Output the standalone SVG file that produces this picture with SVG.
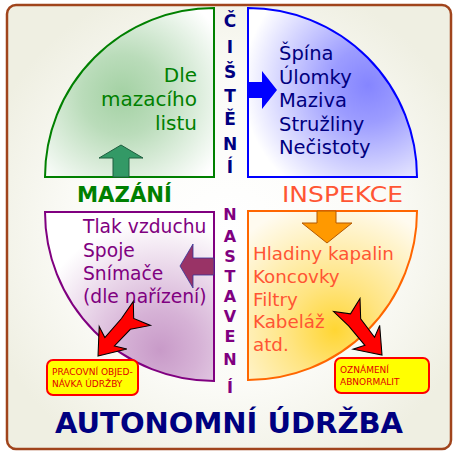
<svg xmlns="http://www.w3.org/2000/svg" width="460" height="455" viewBox="0 0 460 455">
<defs>
<radialGradient id="bg" cx="230" cy="230" r="260" gradientUnits="userSpaceOnUse"><stop offset="0" stop-color="#ffffff"/><stop offset="0.6" stop-color="#fbfbf7"/><stop offset="1" stop-color="#efefe2"/></radialGradient>
<radialGradient id="gG" cx="122" cy="95" r="115" gradientUnits="userSpaceOnUse"><stop offset="0" stop-color="#a3d1a3"/><stop offset="0.35" stop-color="#badcba"/><stop offset="1" stop-color="#ffffff"/></radialGradient>
<radialGradient id="gB" cx="368" cy="85" r="125" gradientUnits="userSpaceOnUse"><stop offset="0" stop-color="#8585ff"/><stop offset="0.3" stop-color="#9c9cff"/><stop offset="1" stop-color="#ffffff"/></radialGradient>
<radialGradient id="gP" cx="160" cy="350" r="130" gradientUnits="userSpaceOnUse"><stop offset="0" stop-color="#c89ac8"/><stop offset="0.3" stop-color="#d6b2d6"/><stop offset="1" stop-color="#ffffff"/></radialGradient>
<radialGradient id="gO" cx="335" cy="330" r="130" gradientUnits="userSpaceOnUse"><stop offset="0" stop-color="#ffd633"/><stop offset="0.35" stop-color="#ffe480"/><stop offset="1" stop-color="#fffbf0"/></radialGradient>
<path id="redArrow" d="M0,0 L-21,-15 L-16,-5 L-36,-6 L-50,-17 L-45,-2 L-56,8 L-38,6 L-16,6 L-20,16 Z"/>
</defs>
<style>
.qt{font-family:"DejaVu Sans",sans-serif}
.vt{font-family:"DejaVu Sans",sans-serif;font-weight:bold;text-anchor:middle}
.box{fill:#ffff00;stroke:#ff0000;stroke-width:2}
.bt{font-family:"DejaVu Sans",sans-serif;font-size:9px;fill:#e00000}
.ra{fill:#ff0000;stroke:#000000;stroke-width:0.9;stroke-linejoin:miter}
</style>
<rect x="7" y="5" width="444" height="444" rx="9" fill="url(#bg)" stroke="#a0441c" stroke-width="2.5"/>

<g id="mazani">
<path d="M214,177 L45,177 A169,169 0 0 1 214,8 Z" fill="url(#gG)" stroke="#008000" stroke-width="2"/>
<g class="qt" fill="#008000" text-anchor="end" font-size="20">
<text x="197" y="82">Dle</text>
<text x="197" y="106">mazacího</text>
<text x="197" y="130">listu</text>
</g>
<text x="124.5" y="202" font-family="DejaVu Sans,sans-serif" font-weight="bold" font-size="21" fill="#008000" text-anchor="middle" textLength="95" lengthAdjust="spacingAndGlyphs">MAZÁNÍ</text>
</g>

<g id="cisteni">
<path d="M248,177 L248,8 A169,169 0 0 1 417,177 Z" fill="url(#gB)" stroke="#0000ff" stroke-width="2"/>
<g class="qt" fill="#000080" font-size="19.5">
<text x="279" y="60">Špína</text>
<text x="279" y="83.5">Úlomky</text>
<text x="279" y="107">Maziva</text>
<text x="279" y="130.5">Stružliny</text>
<text x="279" y="154">Nečistoty</text>
</g>
<g class="vt" fill="#000080" font-size="17">
<text x="230" y="27">Č</text>
<text x="230" y="53">I</text>
<text x="230" y="78">Š</text>
<text x="230" y="102">T</text>
<text x="230" y="125">Ě</text>
<text x="230" y="150">N</text>
<text x="230" y="173">Í</text>
</g>
</g>

<g id="nastaveni">
<path d="M214,212 L214,381 A169,169 0 0 1 45,212 Z" fill="url(#gP)" stroke="#800080" stroke-width="2"/>
<g class="qt" fill="#800080" font-size="18.7">
<text x="83" y="233">Tlak vzduchu</text>
<text x="83" y="257">Spoje</text>
<text x="83" y="280">Snímače</text>
<text x="83" y="303">(dle nařízení)</text>
</g>
<g class="vt" fill="#800080" font-size="16">
<text x="230" y="220">N</text>
<text x="230" y="242">A</text>
<text x="230" y="262">S</text>
<text x="230" y="282">T</text>
<text x="230" y="302">A</text>
<text x="230" y="322">V</text>
<text x="230" y="342">E</text>
<text x="230" y="365">N</text>
<text x="230" y="393">Í</text>
</g>
</g>

<g id="inspekce">
<path d="M248,211 L417,211 A169,169 0 0 1 248,380 Z" fill="url(#gO)" stroke="#ff6600" stroke-width="2"/>
<g class="qt" fill="#ff5533" font-size="18.3">
<text x="253" y="260">Hladiny kapalin</text>
<text x="253" y="283">Koncovky</text>
<text x="253" y="305.5">Filtry</text>
<text x="253" y="328">Kabeláž</text>
<text x="253" y="351">atd.</text>
</g>
<text x="342.5" y="202" font-family="DejaVu Sans,sans-serif" font-size="21" fill="#ff5533" text-anchor="middle" textLength="121" lengthAdjust="spacingAndGlyphs">INSPEKCE</text>
</g>

<g id="objednavka">
<rect class="box" x="47" y="360" width="91" height="35" rx="6"/>
<text class="bt" x="52" y="375">PRACOVNÍ OBJED-</text>
<text class="bt" x="52" y="387">NÁVKA ÚDRŽBY</text>
</g>

<g id="abnormalit">
<rect class="box" x="335" y="358" width="94" height="35" rx="6"/>
<text class="bt" x="340" y="373">OZNÁMENÍ</text>
<text class="bt" x="340" y="385">ABNORMALIT</text>
</g>

<g id="connectors">
<path d="M113,177 L113,158 L99,158 L121,145 L143,158 L129,158 L129,177 Z" fill="#339966" stroke="#1e5e3e" stroke-width="1"/>
<path d="M247,82 L262,82 L262,71 L277,90 L262,109 L262,98 L247,98 Z" fill="#0000ff"/>
<path d="M214,258 L193,258 L193,244 L180,266 L193,288 L193,275 L214,275 Z" fill="#993366" stroke="#333399" stroke-width="0.8"/>
<path d="M317,211 L317,223 L302,223 L327,243 L352,223 L336,223 L336,211 Z" fill="#ff9900" stroke="#b35900" stroke-width="1"/>
<use href="#redArrow" class="ra" transform="translate(98,356) rotate(131) scale(1.15)"/>
<use href="#redArrow" class="ra" transform="translate(382,355) rotate(50) scale(1.15)"/>
</g>

<text x="229" y="433" font-family="DejaVu Sans,sans-serif" font-weight="bold" font-size="28" fill="#000080" text-anchor="middle" textLength="348" lengthAdjust="spacingAndGlyphs">AUTONOMNÍ ÚDRŽBA</text>
</svg>
